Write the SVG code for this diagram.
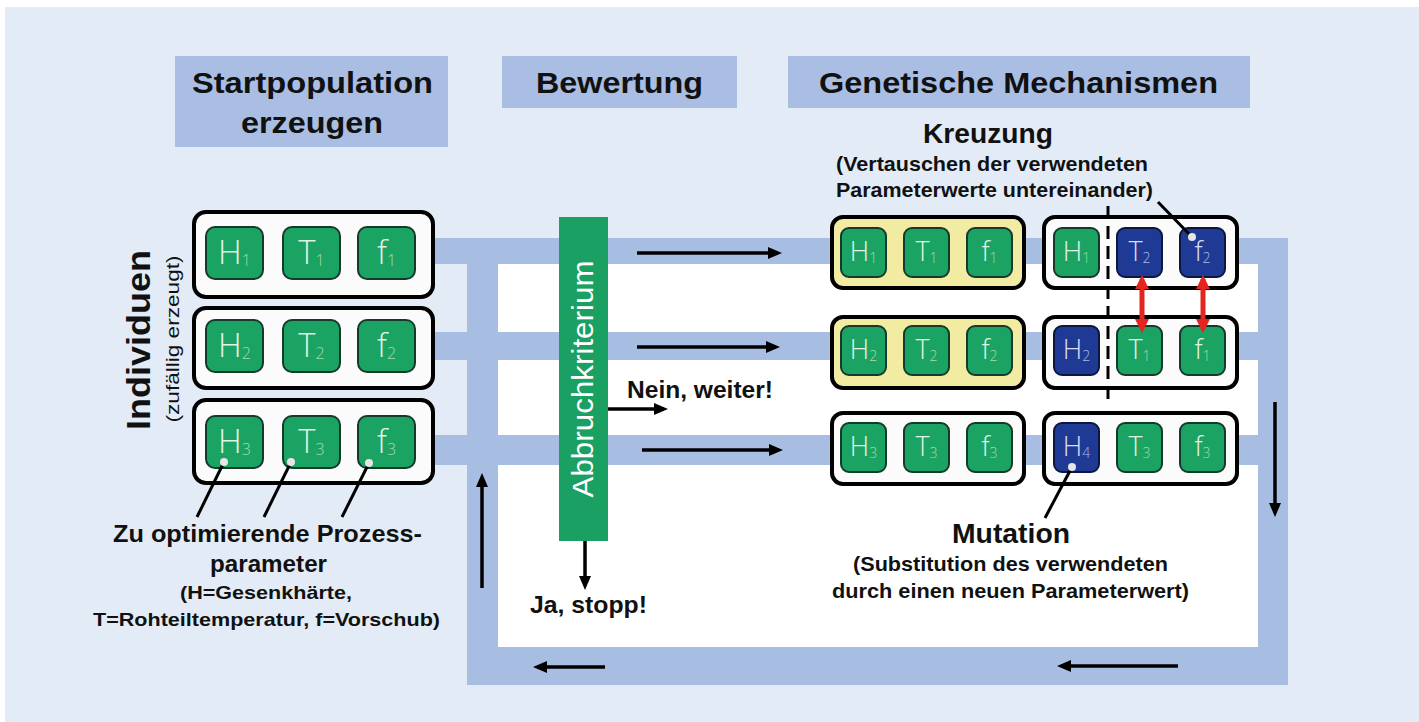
<svg xmlns="http://www.w3.org/2000/svg" width="1419" height="722" viewBox="0 0 1419 722">
<style>
.hdr{fill:#a9bee2}
.band{fill:#a8bde2}
.hb{font-family:"Liberation Sans",Arial,sans-serif;font-weight:bold;fill:#111}
.box{fill:#fbfbfb;stroke:#000;stroke-width:4}
.ybox{fill:#f2eca2;stroke:#000;stroke-width:4}
.g{fill:#1aa362;stroke:#163a2a;stroke-width:2}
.b{fill:#1f3a94;stroke:#0c1740;stroke-width:2}
.ct{font-family:"Open Sans","Liberation Sans",sans-serif;font-weight:300;fill:#e2f3e5;text-anchor:middle}
.ctb{font-family:"Open Sans","Liberation Sans",sans-serif;font-weight:300;fill:#d9dff0;text-anchor:middle}
.sub{fill:#a3dbab}
.subb{fill:#aebbe0}
.L{font-size:33px}
.S{font-size:27px}
.arr{stroke:#000;stroke-width:3.5;fill:none;marker-end:url(#ah)}
.red{stroke:#e5231f;stroke-width:5;fill:none;marker-start:url(#rs);marker-end:url(#re)}
.lead{stroke:#000;stroke-width:3;fill:none}
.dot{fill:#e6e6e6}
</style>
<defs>
<marker id="ah" markerUnits="userSpaceOnUse" markerWidth="14" markerHeight="12" refX="10" refY="6" orient="auto"><path d="M0,0 L14,6 L0,12 z" fill="#000"/></marker>
<marker id="re" markerUnits="userSpaceOnUse" markerWidth="14" markerHeight="14" refX="10" refY="7" orient="auto"><path d="M0,0 L14,7 L0,14 z" fill="#e5231f"/></marker>
<marker id="rs" markerUnits="userSpaceOnUse" markerWidth="14" markerHeight="14" refX="4" refY="7" orient="auto"><path d="M14,0 L0,7 L14,14 z" fill="#e5231f"/></marker>
</defs>
<rect x="0" y="0" width="1419" height="722" fill="#ffffff"/>
<rect x="5" y="7" width="1414" height="715" fill="#e3ecf6"/>

<!-- headers -->
<g id="hdr-start"><rect class="hdr" x="175" y="56" width="273" height="91"/>
<text class="hb" x="192" y="93" font-size="30" textLength="241" lengthAdjust="spacingAndGlyphs">Startpopulation</text>
<text class="hb" x="241" y="133" font-size="30" textLength="142" lengthAdjust="spacingAndGlyphs">erzeugen</text></g>
<g id="hdr-bewertung"><rect class="hdr" x="502" y="56" width="235" height="52"/>
<text class="hb" x="536" y="93" font-size="30" textLength="167" lengthAdjust="spacingAndGlyphs">Bewertung</text></g>
<g id="hdr-genetik"><rect class="hdr" x="788" y="56" width="462" height="52"/>
<text class="hb" x="819" y="93" font-size="30" textLength="399" lengthAdjust="spacingAndGlyphs">Genetische Mechanismen</text></g>

<!-- loop frame -->
<g id="frame">
<rect x="498" y="264" width="760" height="383" fill="#ffffff"/>
<rect class="band" x="435" y="238" width="853" height="26"/>
<rect class="band" x="435" y="332" width="823" height="28"/>
<rect class="band" x="435" y="435" width="823" height="30"/>
<rect class="band" x="467" y="238" width="31" height="447"/>
<rect class="band" x="1258" y="238" width="30" height="447"/>
<rect class="band" x="467" y="647" width="821" height="38"/>
</g>

<!-- left labels -->
<g id="label-individuen">
<text class="hb" transform="translate(150,340) rotate(-90)" text-anchor="middle" font-size="34" textLength="180" lengthAdjust="spacingAndGlyphs">Individuen</text>
<text transform="translate(179,339) rotate(-90)" text-anchor="middle" font-family="Liberation Sans,Arial,sans-serif" font-size="18" fill="#111" textLength="167" lengthAdjust="spacingAndGlyphs">(zufällig erzeugt)</text>
</g>

<!-- start population individuals -->
<g id="ind-start-1">
<rect class="box" x="194" y="212" width="239" height="85" rx="12"/>
<rect class="g" x="206" y="227" width="57" height="52" rx="9"/><text class="ct L" x="234.5" y="264">H<tspan class="sub" font-size="16" dy="2">1</tspan></text>
<rect class="g" x="283" y="227" width="57" height="52" rx="9"/><text class="ct L" x="311.5" y="264">T<tspan class="sub" font-size="16" dy="2">1</tspan></text>
<rect class="g" x="358" y="227" width="57" height="52" rx="9"/><text class="ct L" x="386.5" y="264">f<tspan class="sub" font-size="16" dy="2">1</tspan></text>
</g>
<g id="ind-start-2">
<rect class="box" x="194" y="308" width="239" height="80" rx="12"/>
<rect class="g" x="206" y="320" width="57" height="52" rx="9"/><text class="ct L" x="234.5" y="357">H<tspan class="sub" font-size="16" dy="2">2</tspan></text>
<rect class="g" x="283" y="320" width="57" height="52" rx="9"/><text class="ct L" x="311.5" y="357">T<tspan class="sub" font-size="16" dy="2">2</tspan></text>
<rect class="g" x="358" y="320" width="57" height="52" rx="9"/><text class="ct L" x="386.5" y="357">f<tspan class="sub" font-size="16" dy="2">2</tspan></text>
</g>
<g id="ind-start-3">
<rect class="box" x="194" y="400" width="239" height="83" rx="12"/>
<rect class="g" x="206" y="416" width="57" height="52" rx="9"/><text class="ct L" x="234.5" y="453">H<tspan class="sub" font-size="16" dy="2">3</tspan></text>
<rect class="g" x="283" y="416" width="57" height="52" rx="9"/><text class="ct L" x="311.5" y="453">T<tspan class="sub" font-size="16" dy="2">3</tspan></text>
<rect class="g" x="358" y="416" width="57" height="52" rx="9"/><text class="ct L" x="386.5" y="453">f<tspan class="sub" font-size="16" dy="2">3</tspan></text>
</g>

<!-- Abbruchkriterium -->
<g id="abbruch">
<rect x="559" y="217" width="49" height="324" fill="#1aa062"/>
<text transform="translate(593,379) rotate(-90)" text-anchor="middle" font-family="Liberation Sans,Arial,sans-serif" font-size="29" fill="#ffffff" textLength="237" lengthAdjust="spacingAndGlyphs">Abbruchkriterium</text>
</g>

<!-- evaluated individuals -->
<g id="ind-eval-1">
<rect class="ybox" x="832" y="217" width="192" height="71" rx="11"/>
<rect class="g" x="841" y="228" width="45" height="49" rx="8"/><text class="ct S" x="863.5" y="261">H<tspan class="sub" font-size="14" dy="2">1</tspan></text>
<rect class="g" x="904" y="228" width="45" height="49" rx="8"/><text class="ct S" x="926.5" y="261">T<tspan class="sub" font-size="14" dy="2">1</tspan></text>
<rect class="g" x="967" y="228" width="45" height="49" rx="8"/><text class="ct S" x="989.5" y="261">f<tspan class="sub" font-size="14" dy="2">1</tspan></text>
</g>
<g id="ind-eval-2">
<rect class="ybox" x="832" y="317" width="192" height="71" rx="11"/>
<rect class="g" x="841" y="326" width="45" height="49" rx="8"/><text class="ct S" x="863.5" y="359">H<tspan class="sub" font-size="14" dy="2">2</tspan></text>
<rect class="g" x="904" y="326" width="45" height="49" rx="8"/><text class="ct S" x="926.5" y="359">T<tspan class="sub" font-size="14" dy="2">2</tspan></text>
<rect class="g" x="967" y="326" width="45" height="49" rx="8"/><text class="ct S" x="989.5" y="359">f<tspan class="sub" font-size="14" dy="2">2</tspan></text>
</g>
<g id="ind-eval-3">
<rect class="box" x="832" y="413" width="192" height="71" rx="11"/>
<rect class="g" x="841" y="423" width="45" height="49" rx="8"/><text class="ct S" x="863.5" y="456">H<tspan class="sub" font-size="14" dy="2">3</tspan></text>
<rect class="g" x="904" y="423" width="45" height="49" rx="8"/><text class="ct S" x="926.5" y="456">T<tspan class="sub" font-size="14" dy="2">3</tspan></text>
<rect class="g" x="967" y="423" width="45" height="49" rx="8"/><text class="ct S" x="989.5" y="456">f<tspan class="sub" font-size="14" dy="2">3</tspan></text>
</g>

<!-- offspring -->
<g id="ind-new-1">
<rect class="box" x="1044" y="217" width="193" height="71" rx="11"/>
<rect class="g" x="1054" y="228" width="45" height="49" rx="8"/><text class="ct S" x="1076.5" y="261">H<tspan class="sub" font-size="14" dy="2">1</tspan></text>
<rect class="b" x="1117" y="228" width="45" height="49" rx="8"/><text class="ctb S" x="1139.5" y="261">T<tspan class="subb" font-size="14" dy="2">2</tspan></text>
<rect class="b" x="1180" y="228" width="45" height="49" rx="8"/><text class="ctb S" x="1202.5" y="261">f<tspan class="subb" font-size="14" dy="2">2</tspan></text>
</g>
<g id="ind-new-2">
<rect class="box" x="1044" y="317" width="193" height="71" rx="11"/>
<rect class="b" x="1054" y="326" width="45" height="49" rx="8"/><text class="ctb S" x="1076.5" y="359">H<tspan class="subb" font-size="14" dy="2">2</tspan></text>
<rect class="g" x="1117" y="326" width="45" height="49" rx="8"/><text class="ct S" x="1139.5" y="359">T<tspan class="sub" font-size="14" dy="2">1</tspan></text>
<rect class="g" x="1180" y="326" width="45" height="49" rx="8"/><text class="ct S" x="1202.5" y="359">f<tspan class="sub" font-size="14" dy="2">1</tspan></text>
</g>
<g id="ind-new-3">
<rect class="box" x="1044" y="413" width="193" height="71" rx="11"/>
<rect class="b" x="1054" y="423" width="45" height="49" rx="8"/><text class="ctb S" x="1076.5" y="456">H<tspan class="subb" font-size="14" dy="2">4</tspan></text>
<rect class="g" x="1117" y="423" width="45" height="49" rx="8"/><text class="ct S" x="1139.5" y="456">T<tspan class="sub" font-size="14" dy="2">3</tspan></text>
<rect class="g" x="1180" y="423" width="45" height="49" rx="8"/><text class="ct S" x="1202.5" y="456">f<tspan class="sub" font-size="14" dy="2">3</tspan></text>
</g>

<!-- Kreuzung / Mutation labels -->
<g id="label-kreuzung">
<text class="hb" x="923" y="143" font-size="28" textLength="130" lengthAdjust="spacingAndGlyphs">Kreuzung</text>
<text class="hb" x="836" y="171" font-size="21" textLength="312" lengthAdjust="spacingAndGlyphs">(Vertauschen der verwendeten</text>
<text class="hb" x="836" y="197" font-size="21" textLength="317" lengthAdjust="spacingAndGlyphs">Parameterwerte untereinander)</text>
</g>
<g id="label-mutation">
<text class="hb" x="952" y="543" font-size="28" textLength="118" lengthAdjust="spacingAndGlyphs">Mutation</text>
<text class="hb" x="853" y="571" font-size="21" textLength="315" lengthAdjust="spacingAndGlyphs">(Substitution des verwendeten</text>
<text class="hb" x="832" y="598" font-size="21" textLength="357" lengthAdjust="spacingAndGlyphs">durch einen neuen Parameterwert)</text>
</g>
<g id="label-parameter">
<text class="hb" x="113" y="542" font-size="24" textLength="309" lengthAdjust="spacingAndGlyphs">Zu optimierende Prozess-</text>
<text class="hb" x="210" y="572" font-size="24" textLength="117" lengthAdjust="spacingAndGlyphs">parameter</text>
<text class="hb" x="180" y="599" font-size="19" textLength="172" lengthAdjust="spacingAndGlyphs">(H=Gesenkhärte,</text>
<text class="hb" x="93" y="626" font-size="19" textLength="347" lengthAdjust="spacingAndGlyphs">T=Rohteiltemperatur, f=Vorschub)</text>
</g>
<g id="label-nein"><text class="hb" x="627" y="398" font-size="24" textLength="146" lengthAdjust="spacingAndGlyphs">Nein, weiter!</text></g>
<g id="label-ja"><text class="hb" x="530" y="613" font-size="24" textLength="117" lengthAdjust="spacingAndGlyphs">Ja, stopp!</text></g>

<!-- connectors -->
<g id="connectors">
<line class="arr" x1="637" y1="253" x2="778" y2="253"/>
<line class="arr" x1="637" y1="347" x2="776" y2="347"/>
<line class="arr" x1="642" y1="450" x2="779" y2="450"/>
<line class="arr" x1="608" y1="409" x2="664" y2="409"/>
<line class="arr" x1="585" y1="541" x2="585" y2="586"/>
<line class="arr" x1="482" y1="588" x2="482" y2="477"/>
<line class="arr" x1="1275" y1="402" x2="1275" y2="513"/>
<line class="arr" x1="1178" y1="666" x2="1061" y2="666"/>
<line class="arr" x1="605" y1="667" x2="537" y2="667"/>
<line class="red" x1="1142" y1="279" x2="1142" y2="329"/>
<line class="red" x1="1203" y1="279" x2="1203" y2="329"/>
<line x1="1108" y1="206" x2="1108" y2="404" stroke="#000" stroke-width="3" stroke-dasharray="13 7"/>
<line class="lead" x1="1158" y1="202" x2="1192" y2="237"/><circle class="dot" cx="1192" cy="237" r="4"/>
<line class="lead" x1="1072" y1="467" x2="1045" y2="518"/><circle class="dot" cx="1072" cy="467" r="4"/>
<line class="lead" x1="224" y1="462" x2="197" y2="517"/><circle class="dot" cx="224" cy="462" r="4"/>
<line class="lead" x1="291" y1="462" x2="264" y2="517"/><circle class="dot" cx="291" cy="462" r="4"/>
<line class="lead" x1="369" y1="463" x2="342" y2="517"/><circle class="dot" cx="369" cy="463" r="4"/>
</g>
</svg>
